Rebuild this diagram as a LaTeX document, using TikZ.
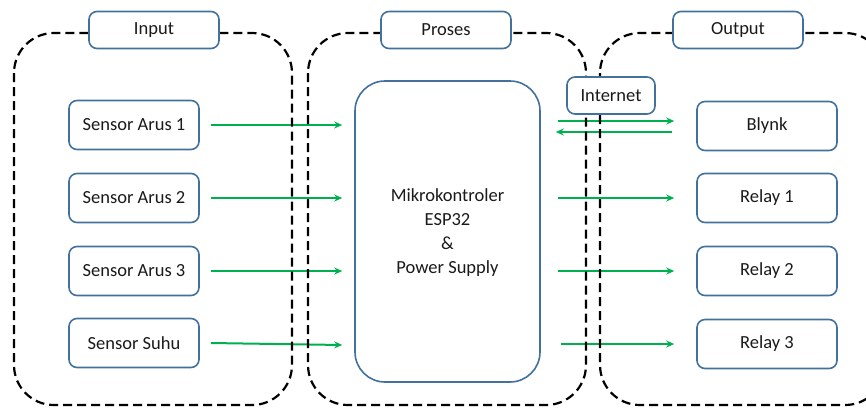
\documentclass[tikz,border=0pt]{standalone}
\usepackage{fontspec}
\setmainfont{Carlito}
\usetikzlibrary{arrows.meta,calc}
\definecolor{boxblue}{HTML}{41719C}
\definecolor{flowgreen}{HTML}{00B050}
\definecolor{txt}{HTML}{1A1A1A}
\pgfdeclarelayer{back}
\pgfsetlayers{back,main}
\begin{document}
\begin{tikzpicture}[x=1pt,y=-1pt,
  blk/.style={draw=boxblue,line width=1.6pt,rounded corners=8pt,fill=white,
    text=txt,font=\fontsize{18.5}{22}\selectfont,inner sep=0pt},
  sensor/.style={blk,minimum width=130pt,minimum height=49pt},
  outbox/.style={blk,minimum width=140pt,minimum height=49pt},
  tag/.style={blk,minimum width=130pt,minimum height=37pt},
  flow/.style={draw=flowgreen,line width=2pt,-{Stealth[length=8pt,width=7pt]}},
  group/.style={draw=black,line width=2.2pt,dash pattern=on 9pt off 5pt,rounded corners=40pt}
]
\useasboundingbox (0,0) rectangle (866,408);

% section titles
\node[tag] (tin)  at (154,30) {Input};
\node[tag] (tpr)  at (446,30) {Proses};
\node[tag] (tout) at (738,30) {Output};

% sensors
\node[sensor] (s1) at (134,125) {Sensor Arus 1};
\node[sensor] (s2) at (134,198) {Sensor Arus 2};
\node[sensor] (s3) at (134,271) {Sensor Arus 3};
\node[sensor] (s4) at (134,343) {Sensor Suhu};

% controller
\node[blk,rounded corners=30pt,minimum width=185pt,minimum height=301pt] (mcu) at (447.5,231.5) {};
\node[text=txt,font=\fontsize{18.5}{24}\selectfont,align=center] (mcutext) at (447.5,233)
  {Mikrokontroler\\ESP32\\\&\\Power Supply};

% internet link
\node[blk,minimum width=88pt,minimum height=37pt] (net) at (611,95.5) {Internet};

% outputs
\node[outbox] (blynk) at (767,126) {Blynk};
\node[outbox] (r1)    at (767,198) {Relay 1};
\node[outbox] (r2)    at (767,271) {Relay 2};
\node[outbox] (r3)    at (767,344) {Relay 3};

\begin{pgfonlayer}{back}
  % signal flow
  \draw[flow] ([xshift=11pt]s1.east) -- ($(s1.east -| mcu.west)+(-12,0)$);
  \draw[flow] ([xshift=11pt]s2.east) -- ($(s2.east -| mcu.west)+(-12,0)$);
  \draw[flow] ([xshift=11pt]s3.east) -- ($(s3.east -| mcu.west)+(-12,0)$);
  \draw[flow] ([xshift=11pt]s4.east) -- ($(s4.east -| mcu.west)+(-12,2)$);

  \draw[flow] ($(blynk.west -| mcu.east)+(17,-5)$) -- ($(blynk.west)+(-22,-5)$);
  \draw[flow] ($(blynk.west)+(-24,6)$) -- ($(blynk.west -| mcu.east)+(15,6)$);
  \draw[flow] ($(r1.west -| mcu.east)+(17,0)$) -- ($(r1.west)+(-22,0)$);
  \draw[flow] ($(r2.west -| mcu.east)+(17,0)$) -- ($(r2.west)+(-22,0)$);
  \draw[flow] ($(r3.west -| mcu.east)+(20,0)$) -- ($(r3.west)+(-22,0)$);

  % dashed groups
  \draw[group] (14,33) rectangle (292,405);
  \draw[group] (308,33) rectangle (586,405);
  \begin{scope}
    \clip (0,0) rectangle (866,408);
    \draw[group] (600,33) rectangle (885,405);
  \end{scope}
\end{pgfonlayer}
\end{tikzpicture}
\end{document}
